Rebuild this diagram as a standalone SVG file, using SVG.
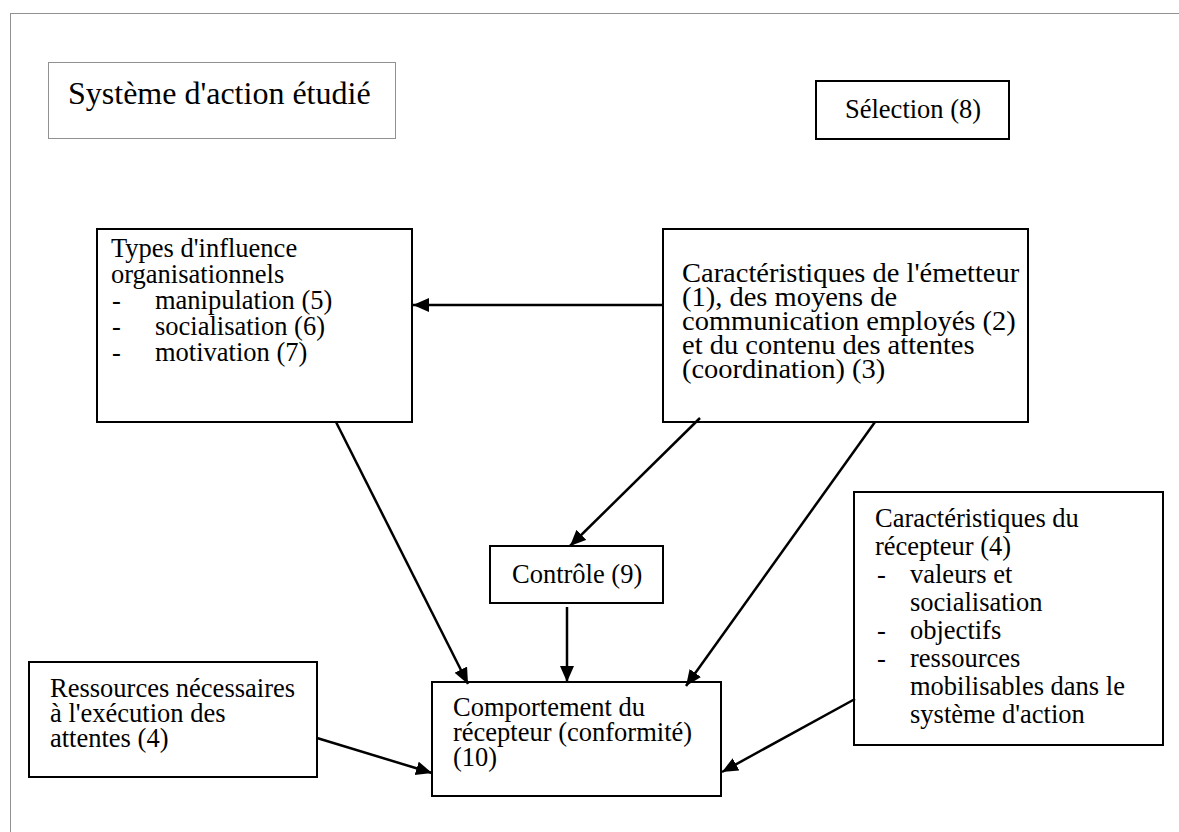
<svg xmlns="http://www.w3.org/2000/svg" width="1179" height="832" viewBox="0 0 1179 832">
<style>
.box{fill:#fff;stroke:#000;stroke-width:2}
.dot{fill:none;stroke:#222;stroke-width:1;stroke-dasharray:1 1}
.t{font-family:"Liberation Serif","Times New Roman",serif;font-size:26.5px;fill:#000}
.c{stroke:#000;stroke-width:2.5;fill:none;marker-end:url(#ah)}
</style>
<defs>
<marker id="ah" markerUnits="userSpaceOnUse" markerWidth="18" markerHeight="16" refX="16" refY="7" orient="auto">
<path d="M0,0 L16,7 L0,14 z" fill="#000"/>
</marker>
</defs>
<rect width="1179" height="832" fill="#fff"/>
<rect class="dot" x="10.5" y="13.5" width="1200" height="850"/>
<g id="title">
<rect class="dot" x="48.5" y="62.5" width="347" height="76"/>
<text class="t" x="68" y="104" style="font-size:32px">Système d'action étudié</text>
</g>
<g id="selection">
<rect class="box" x="816" y="81" width="193" height="58"/>
<text class="t" x="845" y="118">Sélection (8)</text>
</g>
<g id="types">
<rect class="box" x="97" y="229" width="315" height="193"/>
<text class="t" x="111" y="257">Types d'influence</text>
<text class="t" x="111" y="283">organisationnels</text>
<text class="t" x="112" y="309">-</text><text class="t" x="155" y="309">manipulation (5)</text>
<text class="t" x="112" y="335">-</text><text class="t" x="155" y="335">socialisation (6)</text>
<text class="t" x="112" y="361">-</text><text class="t" x="155" y="361">motivation (7)</text>
</g>
<g id="emetteur">
<rect class="box" x="663" y="229" width="365" height="193"/>
<g transform="translate(682 0) scale(1.075 1)">
<text class="t" x="0" y="282">Caractéristiques de l'émetteur</text>
<text class="t" x="0" y="306">(1), des moyens de</text>
<text class="t" x="0" y="330">communication employés (2)</text>
<text class="t" x="0" y="354">et du contenu des attentes</text>
<text class="t" x="0" y="378">(coordination) (3)</text>
</g>
</g>
<g id="controle">
<rect class="box" x="490" y="546" width="173" height="57"/>
<text class="t" x="512" y="583">Contrôle (9)</text>
</g>
<g id="comportement">
<rect class="box" x="432" y="682" width="289" height="114"/>
<text class="t" x="453" y="716">Comportement du</text>
<text class="t" x="453" y="741">récepteur (conformité)</text>
<text class="t" x="453" y="766">(10)</text>
</g>
<g id="ressources">
<rect class="box" x="29" y="662" width="288" height="115"/>
<text class="t" x="50" y="697">Ressources nécessaires</text>
<text class="t" x="50" y="722">à l'exécution des</text>
<text class="t" x="50" y="747">attentes (4)</text>
</g>
<g id="recepteur">
<rect class="box" x="854" y="492" width="309" height="253"/>
<text class="t" x="875" y="527">Caractéristiques du</text>
<text class="t" x="875" y="555">récepteur (4)</text>
<text class="t" x="877" y="583">-</text><text class="t" x="910" y="583">valeurs et</text>
<text class="t" x="910" y="611">socialisation</text>
<text class="t" x="877" y="639">-</text><text class="t" x="910" y="639">objectifs</text>
<text class="t" x="877" y="667">-</text><text class="t" x="910" y="667">ressources</text>
<text class="t" x="910" y="695">mobilisables dans le</text>
<text class="t" x="910" y="723">système d'action</text>
</g>
<g id="connectors">
<line class="c" x1="662" y1="305" x2="413" y2="305"/>
<line class="c" x1="336" y1="422" x2="468" y2="684"/>
<line class="c" x1="700" y1="418" x2="570" y2="546"/>
<line class="c" x1="875" y1="422" x2="686" y2="686"/>
<line class="c" x1="567" y1="607" x2="567" y2="682"/>
<line class="c" x1="317" y1="738" x2="432" y2="773"/>
<line class="c" x1="855" y1="699" x2="722" y2="772"/>
</g>
</svg>
